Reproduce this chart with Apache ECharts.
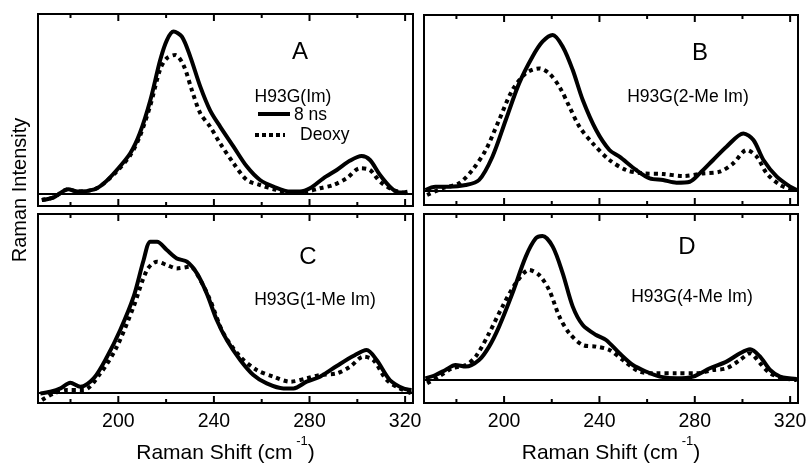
<!DOCTYPE html>
<html><head><meta charset="utf-8">
<script src="https://cdn.jsdelivr.net/npm/echarts@6/dist/echarts.min.js"></script>
<style>html,body{margin:0;padding:0;background:#fff}#c{width:807px;height:464px}</style>
</head><body><div id="c"></div>
<script>
// ---------------- data ----------------
const majorTicks = [200, 240, 280, 320];
const minorTicks = [180, 220, 260, 300];
const panelLetters = ['A', 'B', 'C', 'D'];
const panelSamples = ['H93G(Im)', 'H93G(2-Me Im)', 'H93G(1-Me Im)', 'H93G(4-Me Im)'];
const seriesNames = ['8 ns', 'Deoxy'];

// Panel A
const A_ns8_x = [168, 173, 179, 183, 190, 194, 199.4, 205, 209, 213.4, 217.5, 220.3, 223.1, 226.6, 230.1, 234.3, 238.4, 242.6, 248.2, 253.8, 259.3, 264.9, 272, 276, 280.2, 285.8, 291.4, 297, 301.8, 305.3, 309.5, 314.3, 317.8, 321];
const A_ns8_y = [-6.7, -4, 4, 1.7, 4, 10, 23.3, 40, 60, 93, 133, 153, 161.7, 156.7, 136.7, 106.7, 83, 66.7, 46.7, 26.7, 13.3, 6.7, 1.7, 1.7, 5, 15, 23.3, 32.7, 37.3, 33.3, 18.3, 5, 0.7, 1.7];
const A_deoxy_x = [168, 173, 179, 183, 190, 194, 199.4, 205, 209, 213.4, 217.5, 220.3, 223.8, 227.3, 230.8, 234.3, 238.4, 242.6, 248.2, 253.8, 259.3, 266.3, 273.3, 278.8, 284.4, 290, 295.5, 301.1, 305.3, 309.5, 315, 320.6];
const A_deoxy_y = [-6.7, -4, 4, 1.7, 4, 10, 22, 38, 57, 88, 124, 135, 138.3, 128, 103, 80, 66.7, 50, 30, 13.3, 8.3, 3.3, 0.7, 1.7, 5, 8.3, 15, 25, 23.3, 11.7, 3.3, 0];

// Panel B
const B_ns8_x = [167, 171.2, 176.8, 183.9, 189.5, 195.1, 200.7, 206.3, 211.9, 216.1, 220.4, 224.6, 228.8, 233, 238.6, 244.2, 248.4, 255.4, 261.1, 266.7, 272.3, 277.9, 282.1, 287.7, 293.3, 300.4, 304.6, 308.8, 314.4, 320, 322.8];
const B_ns8_y = [0.7, 4, 4, 5.7, 10.7, 34, 70.7, 107.3, 134, 149, 155.7, 144, 120.7, 90.7, 60.7, 40.7, 34, 20.7, 12.3, 10.7, 8, 9, 17.3, 30.7, 44, 57.3, 50.7, 30.7, 14, 4, 0.7];
const B_deoxy_x = [167.7, 174, 181, 186.7, 192.3, 197.9, 203.5, 209.1, 214.7, 218.9, 223.2, 227.4, 231.6, 237.2, 244.2, 251.2, 258.2, 266.7, 275.1, 283.5, 290.5, 296.1, 301.8, 306, 310.2, 315.8, 321.4];
const B_deoxy_y = [-4.3, 2.3, 7.3, 20.7, 40.7, 70.7, 100.7, 117.3, 122.3, 117.3, 104, 84, 64, 47.3, 30.7, 20.7, 17.3, 16.7, 14.7, 17.3, 19, 27.3, 40.7, 34, 17.3, 5.7, 0.7];

// Panel C
const C_ns8_x = [167.4, 171.6, 175.8, 179.9, 184.1, 189.7, 195.3, 200.8, 206.4, 210.6, 213.4, 216.2, 220.3, 224.5, 228.7, 232.9, 237, 241.2, 245.4, 251, 256.5, 262.1, 269.1, 273.3, 278.8, 284.4, 291.4, 298.3, 303.9, 308.1, 313.6, 319.2, 322.7];
const C_ns8_y = [-0.7, 1, 4.3, 10, 6, 14.3, 36, 62.7, 96, 132.7, 151, 151, 142.7, 134.3, 131, 119.3, 99.3, 72.7, 52.7, 32.7, 17.7, 9.3, 4.3, 4.3, 11, 16, 26.7, 36.7, 42.7, 32.7, 12.7, 4.3, 2.7];
const C_deoxy_x = [168.1, 173, 178.6, 185.5, 192.5, 199.4, 206.4, 212, 216.2, 220.3, 224.5, 230.1, 234.3, 238.4, 244, 251, 257.9, 264.9, 271.9, 278.8, 284.4, 291.4, 297, 302.5, 306.7, 312.3, 317.8, 322.7];
const C_deoxy_y = [-7.3, -0.7, 2.7, 2.7, 19.3, 46, 86, 122.7, 131, 127.7, 124.3, 126, 112.7, 92.7, 59.3, 36, 22.7, 16, 11, 14.3, 17.7, 19.3, 26, 36, 32.7, 12.7, 4.3, -0.7];

// Panel D
const D_ns8_x = [167, 171.2, 175.4, 179.6, 183.9, 189.5, 193.7, 197.9, 203.5, 209.1, 213.3, 216.1, 220.4, 224.6, 228.8, 233, 238.6, 242.8, 248.4, 254, 259.6, 265.3, 272.3, 279.3, 286.3, 293.3, 299, 303.2, 307.4, 311.6, 315.8, 322.8];
const D_ns8_y = [1, 4.3, 9.3, 14.3, 12.7, 19.3, 32.7, 52.7, 86, 122.7, 141, 143.3, 132.7, 106, 72.7, 54.3, 44.3, 39.3, 26, 14.3, 7.7, 2.7, 1, 2.7, 11, 17.7, 26, 30, 22.7, 9.3, 2.7, 0.3];
const D_deoxy_x = [167.7, 172.6, 178.2, 183.9, 188.1, 193.7, 199.3, 204.9, 210.5, 214.7, 218.9, 223.2, 227.4, 233, 238.6, 244.2, 249.8, 256.8, 263.9, 272.3, 280.7, 287.7, 293.3, 299, 303.2, 307.4, 311.6, 317.2, 322.8];
const D_deoxy_y = [-4, 2.7, 11, 14.3, 22.7, 46, 72.7, 96, 109.3, 104.3, 89.3, 62.7, 46, 34.3, 32.7, 29.3, 19.3, 7.7, 6, 6, 6, 9.3, 11, 19.3, 26, 16, 6, 1, -0.7];

// ---------------- layout ----------------
const FONT = "'Liberation Sans', Arial, Helvetica, sans-serif";
const X_MIN = 166.4, X_MAX = 323.3;
const MAJOR_LEN = 7, MINOR_LEN = 4;
const panels = [
  { grid: { left: 38, top: 14, width: 375, height: 192 }, ymin: -12.7, ymax: 179.3, labels: false,
    ns8: [A_ns8_x, A_ns8_y], deoxy: [A_deoxy_x, A_deoxy_y], letterPos: [300, 52], samplePos: [293, 97] },
  { grid: { left: 424, top: 15, width: 374, height: 190 }, ymin: -14.3, ymax: 175.7, labels: false,
    ns8: [B_ns8_x, B_ns8_y], deoxy: [B_deoxy_x, B_deoxy_y], letterPos: [700, 53], samplePos: [688, 97] },
  { grid: { left: 38, top: 214, width: 375, height: 189 }, ymin: -10.3, ymax: 178.7, labels: true,
    ns8: [C_ns8_x, C_ns8_y], deoxy: [C_deoxy_x, C_deoxy_y], letterPos: [308, 257], samplePos: [315, 300] },
  { grid: { left: 424, top: 214, width: 374, height: 189 }, ymin: -23.7, ymax: 165.3, labels: true,
    ns8: [D_ns8_x, D_ns8_y], deoxy: [D_deoxy_x, D_deoxy_y], letterPos: [687, 247], samplePos: [692, 297] }
];

function zip(xs, ys) { return xs.map((x, i) => [x, ys[i]]); }
const tickData = majorTicks.map(v => [v, MAJOR_LEN]).concat(minorTicks.map(v => [v, MINOR_LEN]));

function renderTick(params, api) {
  const cs = params.coordSys;
  const px = api.coord([api.value(0), 0])[0];
  const len = api.value(1);
  const st = { stroke: '#000', lineWidth: 2 };
  return { type: 'group', children: [
    { type: 'line', shape: { x1: px, y1: cs.y, x2: px, y2: cs.y + len }, style: st },
    { type: 'line', shape: { x1: px, y1: cs.y + cs.height, x2: px, y2: cs.y + cs.height - len }, style: st }
  ] };
}

const grids = [], xAxes = [], yAxes = [], series = [], graphics = [];
panels.forEach((p, i) => {
  grids.push(Object.assign({ show: true, borderColor: '#000', borderWidth: 2, backgroundColor: 'transparent',
    containLabel: false, outerBoundsMode: 'none' }, p.grid));
  const ax = { gridIndex: i, type: 'value', min: X_MIN, max: X_MAX, position: 'bottom',
    axisLine: { show: false }, splitLine: { show: false }, axisTick: { show: false },
    axisLabel: { show: p.labels, customValues: majorTicks, fontSize: 19.5, fontFamily: FONT, color: '#000', margin: 9 } };
  if (p.labels) {
    ax.name = 'Raman Shift (cm{sup| -1})';
    ax.nameLocation = 'middle';
    ax.nameGap = 32;
    ax.nameTextStyle = { fontSize: 21, fontFamily: FONT, color: '#000', lineHeight: 36,
      rich: { sup: { fontSize: 13, fontFamily: FONT, color: '#000', verticalAlign: 'top', lineHeight: 13 } } };
  }
  xAxes.push(ax);
  yAxes.push({ gridIndex: i, type: 'value', show: false, min: p.ymin, max: p.ymax });

  series.push({
    name: seriesNames[0], type: 'line', xAxisIndex: i, yAxisIndex: i,
    data: zip(p.ns8[0], p.ns8[1]), smooth: 0.3, symbol: 'none',
    lineStyle: { color: '#000', width: 4 }, z: 3,
    markLine: { silent: true, symbol: ['none', 'none'], label: { show: false },
      lineStyle: { color: '#000', width: 2, type: 'solid' }, data: [{ yAxis: 0 }] }
  });
  series.push({
    name: seriesNames[1], type: 'line', xAxisIndex: i, yAxisIndex: i,
    data: zip(p.deoxy[0], p.deoxy[1]), smooth: 0.3, symbol: 'none',
    lineStyle: { color: '#000', width: 4, type: [4, 4], cap: 'butt' }, z: 4
  });
  series.push({
    name: 'ticks', type: 'custom', xAxisIndex: i, yAxisIndex: i, silent: true, clip: false,
    data: tickData, encode: { x: 0, y: 1 }, renderItem: renderTick, z: 5
  });

  graphics.push({ type: 'text', x: p.letterPos[0], y: p.letterPos[1],
    style: { text: panelLetters[i], fontSize: 24, fontFamily: FONT, fill: '#000', align: 'center', verticalAlign: 'middle' } });
  graphics.push({ type: 'text', x: p.samplePos[0], y: p.samplePos[1],
    style: { text: panelSamples[i], fontSize: 17.5, fontFamily: FONT, fill: '#000', align: 'center', verticalAlign: 'middle' } });
});

// legend in panel A
graphics.push({ type: 'line', shape: { x1: 258, y1: 114, x2: 290, y2: 114 }, style: { stroke: '#000', lineWidth: 4 } });
graphics.push({ type: 'text', x: 294, y: 115, style: { text: seriesNames[0], fontSize: 17.5, fontFamily: FONT, fill: '#000', align: 'left', verticalAlign: 'middle' } });
graphics.push({ type: 'line', shape: { x1: 255, y1: 135, x2: 285, y2: 135 }, style: { stroke: '#000', lineWidth: 4, lineDash: [4, 3] } });
graphics.push({ type: 'text', x: 300, y: 135, style: { text: seriesNames[1], fontSize: 17.5, fontFamily: FONT, fill: '#000', align: 'left', verticalAlign: 'middle' } });
// y-axis title
graphics.push({ type: 'text', x: 20, y: 190, rotation: Math.PI / 2,
  style: { text: 'Raman Intensity', fontSize: 20, fontFamily: FONT, fill: '#000', align: 'center', verticalAlign: 'middle' } });

const chart = echarts.init(document.getElementById('c'), null, { renderer: 'canvas' });
chart.setOption({
  animation: false,
  backgroundColor: '#fff',
  grid: grids, xAxis: xAxes, yAxis: yAxes, series: series, graphic: graphics
});
</script></body></html>
